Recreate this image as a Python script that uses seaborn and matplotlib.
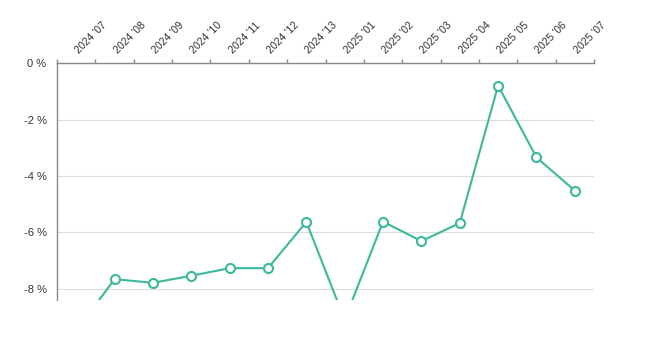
import matplotlib
matplotlib.use("Agg")
import matplotlib.pyplot as plt
import matplotlib.ticker as mticker
import matplotlib.transforms as mtransforms
import seaborn as sns
import pandas as pd
import numpy as np

# Values (monthly change, %)
months = ["2024 '07", "2024 '08", "2024 '09", "2024 '10", "2024 '11", "2024 '12", "2024 '13",
          "2025 '01", "2025 '02", "2025 '03", "2025 '04", "2025 '05", "2025 '06", "2025 '07"]
change_pct = [-9.5, -7.66, -7.79, -7.54, -7.27, -7.27, -5.63,
              -9.1, -5.62, -6.31, -5.67, -0.79, -3.34, -4.52]
y_ticks = [0, -2, -4, -6, -8]

df = pd.DataFrame({"month": months, "change": change_pct})
df["pos"] = np.arange(len(months))

sns.set_style("white")
plt.rcParams["font.family"] = ["Liberation Sans", "DejaVu Sans"]

fig = plt.figure(figsize=(6.66, 3.52), dpi=100)
ax = fig.add_axes([57 / 666, 1 - 300 / 352, (594 - 57) / 666, (300 - 63.3) / 352])

line_col = "#3cb89c"
sns.lineplot(data=df, x="pos", y="change", ax=ax, color=line_col, linewidth=1.5,
             marker="o", markersize=6.5, markerfacecolor="white",
             markeredgecolor=line_col, markeredgewidth=1.5)

ax.set_xlim(-0.5, len(months) - 0.5)
ax.set_ylim(-8.4, 0)

# x axis on top: labels at band centres, tick marks at band edges
ax.xaxis.tick_top()
ax.set_xticks(df["pos"])
ax.set_xticklabels(months, rotation=45, ha="left", va="baseline", rotation_mode="anchor")
ax.set_xticks(np.arange(len(months) + 1) - 0.5, minor=True)
ax.tick_params(axis="x", which="major", length=0, pad=7, labelsize=7.6, colors="#333333",
               top=True, bottom=False)
ax.tick_params(axis="x", which="minor", length=3, width=1, color="#888888",
               top=True, bottom=False)
shift = mtransforms.ScaledTranslation(3 / 100, 0, fig.dpi_scale_trans)
for lbl in ax.get_xticklabels():
    lbl.set_transform(lbl.get_transform() + shift)

ax.set_yticks(y_ticks)
ax.yaxis.set_major_formatter(mticker.FuncFormatter(lambda v, p: f"{int(round(v))} %"))
ax.tick_params(axis="y", length=3, width=1, color="#888888", pad=4.5,
               labelsize=8, labelcolor="#333333")

ax.grid(axis="y", color="#dddddd", linewidth=0.8)
ax.set_axisbelow(True)
for side in ["right", "bottom"]:
    ax.spines[side].set_visible(False)
for side in ["left", "top"]:
    ax.spines[side].set_color("#888888")
    ax.spines[side].set_linewidth(1)

ax.set_xlabel("")
ax.set_ylabel("")

fig.savefig("out.png", dpi=100, facecolor="white")
